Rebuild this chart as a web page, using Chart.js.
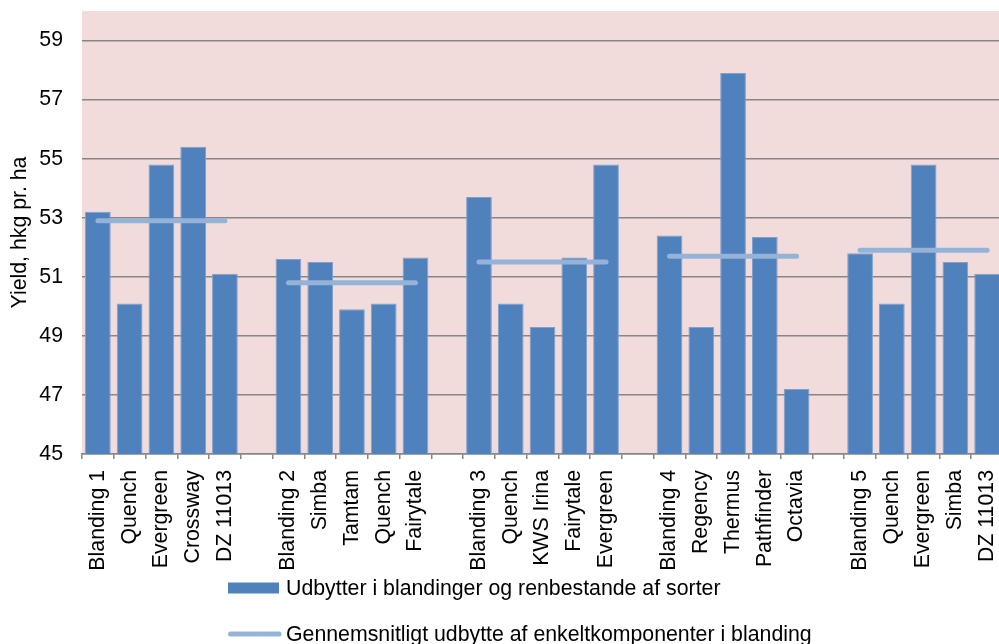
<!DOCTYPE html>
<html>
<head>
<meta charset="utf-8">
<script src="https://cdn.jsdelivr.net/npm/chart.js@4"></script>
<style>
html,body{margin:0;padding:0;background:#fff;overflow:hidden;}
#wrap{position:relative;width:1003px;height:644px;}
</style>
</head>
<body>
<div id="wrap"><canvas id="c"></canvas></div>
<script>
// ---- data ----
const group1Labels = ['Blanding 1','Quench','Evergreen','Crossway','DZ 11013'];
const group2Labels = ['Blanding 2','Simba','Tamtam','Quench','Fairytale'];
const group3Labels = ['Blanding 3','Quench','KWS Irina','Fairytale','Evergreen'];
const group4Labels = ['Blanding 4','Regency','Thermus','Pathfinder','Octavia'];
const group5Labels = ['Blanding 5','Quench','Evergreen','Simba','DZ 11013'];

const group1Yields = [53.2, 50.1, 54.8, 55.4, 51.1];
const group2Yields = [51.6, 51.5, 49.9, 50.1, 51.65];
const group3Yields = [53.7, 50.1, 49.3, 51.65, 54.8];
const group4Yields = [52.4, 49.3, 57.9, 52.35, 47.2];
const group5Yields = [51.8, 50.1, 54.8, 51.5, 51.1];

const groupAverages = [52.9, 50.8, 51.5, 51.7, 51.9];

const yTickValues = [45, 47, 49, 51, 53, 55, 57, 59];

const barSeriesName = 'Udbytter i blandinger og renbestande af sorter';
const lineSeriesName = 'Gennemsnitligt udbytte af enkeltkomponenter i blanding';

// ---- build flat table with empty gap slots ----
const groupLabels = [group1Labels, group2Labels, group3Labels, group4Labels, group5Labels];
const groupYields = [group1Yields, group2Yields, group3Yields, group4Yields, group5Yields];
const labels = [], barData = [], lineData = [];
groupLabels.forEach((g, gi) => {
  if (gi > 0) { labels.push(''); barData.push(null); lineData.push(null); }
  g.forEach((l, i) => {
    labels.push(l);
    barData.push(groupYields[gi][i]);
    lineData.push(groupAverages[gi]);
  });
});

const FS = 21.3;
Chart.defaults.font.family = "'Liberation Sans', Arial, sans-serif";
Chart.defaults.font.size = FS;
Chart.defaults.color = '#000';

const plotBg = {
  id: 'plotBg',
  beforeDraw(chart) {
    const {ctx, chartArea: a} = chart;
    ctx.save();
    ctx.fillStyle = '#F2DCDB';
    ctx.fillRect(a.left, a.top, a.right - a.left, a.bottom - a.top);
    ctx.restore();
  }
};

const customLegend = {
  id: 'customLegend',
  afterDraw(chart) {
    const ctx = chart.ctx;
    const ds = chart.data.datasets;
    const x0 = 228, textX = 286;
    ctx.save();
    ctx.font = FS + "px 'Liberation Sans', Arial, sans-serif";
    ctx.textBaseline = 'middle';
    ctx.textAlign = 'left';
    // bar item
    let y = 588;
    ctx.fillStyle = ds[0].backgroundColor;
    ctx.fillRect(x0, y - 5.5, 51, 11);
    ctx.fillStyle = '#000';
    ctx.fillText(ds[0].label, textX, y + 1);
    // line item
    y = 634;
    ctx.strokeStyle = ds[1].borderColor;
    ctx.lineWidth = 5;
    ctx.lineCap = 'round';
    ctx.beginPath();
    ctx.moveTo(x0 + 2.5, y);
    ctx.lineTo(x0 + 51, y);
    ctx.stroke();
    ctx.fillText(ds[1].label, textX, y + 1);
    ctx.restore();
  }
};

new Chart(document.getElementById('c'), {
  type: 'bar',
  data: {
    labels: labels,
    datasets: [
      {
        type: 'bar',
        label: barSeriesName,
        data: barData,
        backgroundColor: '#4F81BD',
        borderColor: '#7F9FCF',
        borderWidth: 1,
        barPercentage: 0.81,
        categoryPercentage: 1.0,
        order: 2
      },
      {
        type: 'line',
        label: lineSeriesName,
        data: lineData,
        borderColor: '#95B3D7',
        backgroundColor: '#95B3D7',
        borderWidth: 5,
        borderCapStyle: 'round',
        pointRadius: 0,
        spanGaps: false,
        tension: 0,
        order: 1
      }
    ]
  },
  options: {
    responsive: true,
    maintainAspectRatio: false,
    animation: false,
    layout: { padding: { top: 11, left: 0, right: 0, bottom: 0 } },
    plugins: {
      legend: { display: false },
      tooltip: { enabled: false }
    },
    scales: {
      x: {
        grid: {
          offset: true,
          drawOnChartArea: false,
          drawTicks: true,
          tickLength: 5,
          color: '#868686',
          lineWidth: 1.5
        },
        border: { display: true, color: '#868686', width: 1.5 },
        ticks: {
          autoSkip: false,
          maxRotation: 90,
          minRotation: 90,
          padding: 11,
          color: '#000',
          font: { size: FS }
        },
        afterFit(scale) {
          scale.height = 190;
          scale.paddingLeft = 0; scale.paddingRight = 0;
          scale.paddingTop = 0; scale.paddingBottom = 0;
        }
      },
      y: {
        min: 45,
        max: 60,
        afterBuildTicks(scale) { scale.ticks = yTickValues.map(v => ({ value: v })); },
        grid: {
          drawTicks: false,
          color: '#868686',
          lineWidth: 1.5
        },
        border: { display: false },
        ticks: {
          padding: 19,
          color: '#000',
          font: { size: FS }
        },
        title: {
          display: true,
          text: 'Yield, hkg pr. ha',
          color: '#000',
          font: { size: FS },
          padding: { top: 7, bottom: 0 }
        },
        afterFit(scale) {
          scale.width = 82;
          scale.paddingLeft = 0; scale.paddingRight = 0;
          scale.paddingTop = 0; scale.paddingBottom = 0;
        }
      }
    }
  },
  plugins: [plotBg, customLegend]
});
</script>
</body>
</html>
